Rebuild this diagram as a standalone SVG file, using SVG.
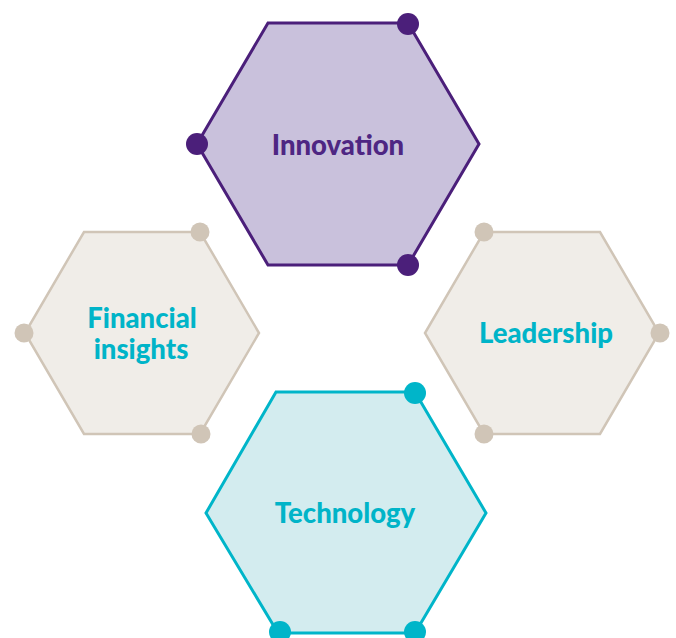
<svg xmlns="http://www.w3.org/2000/svg" width="676" height="638" viewBox="0 0 676 638">
<style>
.lbl{font-family:Lato,"Liberation Sans",sans-serif;font-weight:900;text-anchor:middle;font-size:27.5px}
.pur{fill:#c9c1dc;stroke:#4b1f7a;stroke-width:3;stroke-linejoin:miter}
.beige{fill:#f0ede8;stroke:#d0c5b7;stroke-width:2.5}
.teal{fill:#d3ecef;stroke:#00b5c9;stroke-width:3}
.dp{fill:#4b1f7a}.db{fill:#d0c5b7}.dt{fill:#00b5c9}
.tp{fill:#4e2683}.tt{fill:#00b4c8}
</style>
<rect width="676" height="638" fill="#ffffff"/>
<g id="connectors"></g>
<g id="financial">
<polygon class="beige" points="84,232 200,232 259,333 200,434 84,434 25,333"/>
<circle class="db" cx="200" cy="232" r="9.5"/>
<circle class="db" cx="24" cy="333" r="9.5"/>
<circle class="db" cx="201" cy="434" r="9.5"/>
<text class="lbl tt" x="142" y="328">Financial</text>
<text class="lbl tt" x="141" y="359">insights</text>
</g>
<g id="leadership">
<polygon class="beige" points="484,232 600,232 659,333 600,434 484,434 425,333"/>
<circle class="db" cx="484" cy="232" r="9.5"/>
<circle class="db" cx="660" cy="333" r="9.5"/>
<circle class="db" cx="484" cy="434" r="9.5"/>
<text class="lbl tt" x="546" y="343">Leadership</text>
</g>
<g id="innovation">
<polygon class="pur" points="268,23 408,23 479,144 408,265 268,265 197,144"/>
<circle class="dp" cx="408" cy="24" r="11"/>
<circle class="dp" cx="197" cy="144" r="11"/>
<circle class="dp" cx="408" cy="265" r="11"/>
<text class="lbl tp" x="338" y="155">Innovation</text>
</g>
<g id="technology">
<polygon class="teal" points="276,392 415,392 486,513 415,633 278,633 206,513"/>
<circle class="dt" cx="415" cy="393" r="11"/>
<circle class="dt" cx="280" cy="632" r="11"/>
<circle class="dt" cx="415" cy="632" r="11"/>
<text class="lbl tt" x="345" y="523">Technology</text>
</g>
</svg>
